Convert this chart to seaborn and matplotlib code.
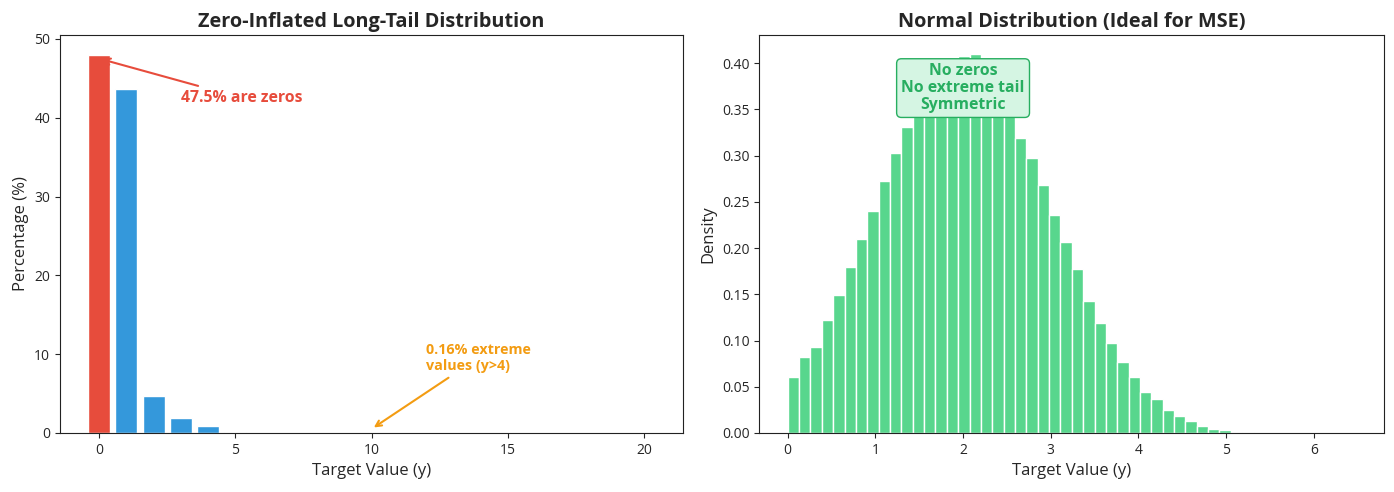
import numpy as np
import pandas as pd
import matplotlib
matplotlib.use("Agg")
import matplotlib.pyplot as plt
import seaborn as sns

# Left panel: share of samples per integer target value (%)
target_values = list(range(21))
percentages = [47.9, 43.6, 4.68, 1.86, 0.93, 0.07, 0.04, 0.02, 0.012, 0.008,
               0.005, 0.003, 0.002, 0.001, 0.001, 0.001, 0.0005, 0.0005,
               0.0003, 0.0002, 0.0002]

# Right panel: histogram density of a normal-like target (50 bins)
hist_low, hist_high, n_bins = 0.0, 6.48, 50
densities = [0.061, 0.082, 0.093, 0.1225, 0.1495, 0.179, 0.210, 0.240, 0.272, 0.303,
             0.331, 0.355, 0.370, 0.385, 0.392, 0.408, 0.410, 0.392, 0.372, 0.350,
             0.319, 0.297, 0.268, 0.236, 0.206, 0.177, 0.143, 0.119, 0.097, 0.077,
             0.060, 0.044, 0.037, 0.0245, 0.018, 0.0124, 0.008, 0.004, 0.0036, 0.0014,
             0.0006, 0.0003, 0.0002, 0.0001, 0.0, 0.0, 0.0, 0.0, 0.0, 0.0001]

RED, BLUE, ORANGE = "#e74c3c", "#3498db", "#f39c12"
GREEN, DARK_GREEN, LIGHT_GREEN = "#2ecc71", "#27ae60", "#d5f5e3"

sns.set_style("ticks")
plt.rcParams["font.family"] = ["Open Sans", "DejaVu Sans"]
plt.rcParams["xtick.major.size"] = 3.5
plt.rcParams["ytick.major.size"] = 3.5

fig = plt.figure(figsize=(13.94, 4.92), dpi=100)
ax1 = fig.add_axes([0.043, 0.12, 0.447, 0.809])
ax2 = fig.add_axes([0.5447, 0.12, 0.4483, 0.809])

# --- left: zero-inflated long tail ---
left_df = pd.DataFrame({"y": target_values, "pct": percentages})
bar_colors = [RED] + [BLUE] * (len(target_values) - 1)
sns.barplot(data=left_df, x="y", y="pct", hue="y", palette=bar_colors,
            native_scale=True, legend=False, edgecolor="white", linewidth=1,
            saturation=1, ax=ax1)
ax1.set_xlim(-1.44, 21.44)
ax1.set_ylim(0, 50.5)
ax1.set_xticks([0, 5, 10, 15, 20])
ax1.set_title("Zero-Inflated Long-Tail Distribution", fontsize=14.3, fontweight="bold")
ax1.set_xlabel("Target Value (y)", fontsize=12)
ax1.set_ylabel("Percentage (%)", fontsize=12)
ax1.annotate("47.5% are zeros", xy=(0, 47.5), xytext=(3, 42),
             fontsize=11.3, fontweight="bold", color=RED,
             arrowprops=dict(arrowstyle="->", color=RED, lw=1.5))
ax1.annotate("0.16% extreme\nvalues (y>4)", xy=(10, 0.5), xytext=(12, 8),
             fontsize=10.3, fontweight="bold", color=ORANGE,
             arrowprops=dict(arrowstyle="->", color=ORANGE, lw=1.5))

# --- right: normal distribution ---
edges = np.linspace(hist_low, hist_high, n_bins + 1)
right_df = pd.DataFrame({"center": (edges[:-1] + edges[1:]) / 2, "density": densities})
sns.histplot(data=right_df, x="center", weights="density", bins=edges.tolist(),
             color=GREEN, alpha=0.8, edgecolor="white", linewidth=1, ax=ax2)
ax2.set_xlim(-0.324, 6.804)
ax2.set_ylim(0, 0.4305)
ax2.set_title("Normal Distribution (Ideal for MSE)", fontsize=14.3, fontweight="bold")
ax2.set_xlabel("Target Value (y)", fontsize=12)
ax2.set_ylabel("Density", fontsize=12)
ax2.text(2.0, 0.373, "No zeros\nNo extreme tail\nSymmetric", ha="center", va="center",
         fontsize=11.4, fontweight="bold", color=DARK_GREEN, linespacing=1.05,
         bbox=dict(boxstyle="round,pad=0.3", facecolor=LIGHT_GREEN,
                   edgecolor=DARK_GREEN))

for ax in (ax1, ax2):
    ax.tick_params(labelsize=10)
    for s in ax.spines.values():
        s.set_color("#222222")

fig.savefig("out.png", dpi=100)
